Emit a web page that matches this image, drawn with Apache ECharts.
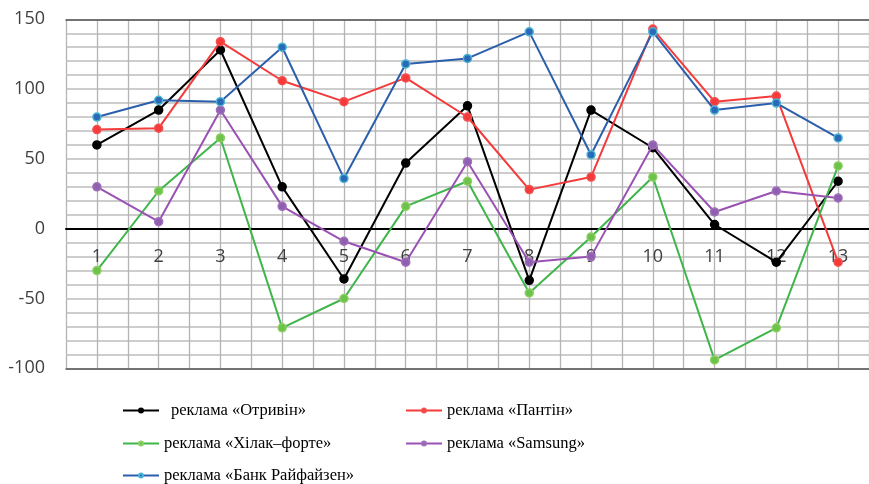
<!DOCTYPE html>
<html>
<head>
<meta charset="utf-8">
<script src="https://cdn.jsdelivr.net/npm/echarts@6/dist/echarts.min.js"></script>
<style>html,body{margin:0;padding:0;background:#fff;}#c{width:869px;height:484px;}</style>
</head>
<body>
<div id="c"></div>
<script>
const categories = ['1','2','3','4','5','6','7','8','9','10','11','12','13'];
const yTickLabels = [-100, -50, 0, 50, 100, 150];
const otrivin = [60, 85, 128, 30, -36, 47, 88, -37, 85, 58, 3, -24, 34];
const pantin = [71, 72, 134, 106, 91, 108, 80, 28, 37, 143, 91, 95, -24];
const khilak = [-30, 27, 65, -71, -50, 16, 34, -46, -6, 37, -94, -71, 45];
const samsung = [30, 5, 85, 16, -9, -24, 48, -24, -20, 60, 12, 27, 22];
const raiffeisen = [80, 92, 91, 130, 36, 118, 122, 141, 53, 141, 85, 90, 65];
const seriesNames = ['реклама «Отривін»','реклама «Пантін»','реклама «Хілак–форте»','реклама «Samsung»','реклама «Банк Райфайзен»'];

const toPts = arr => categories.map((c, i) => [i + 1, arr[i]]);

const styles = [
  {line:'#000000', fill:'#000000', border:'#000000'},
  {line:'#f43a3a', fill:'#f43a3a', border:'#f45050'},
  {line:'#3fb54a', fill:'#6cc24a', border:'#8ccf62'},
  {line:'#9b51b3', fill:'#9060b0', border:'#a070bb'},
  {line:'#2c5fab', fill:'#2a68b8', border:'#4bb3d3'}
];
const dataArr = [otrivin, pantin, khilak, samsung, raiffeisen];

const series = dataArr.map((d, k) => ({
  name: seriesNames[k],
  type: 'line',
  xAxisIndex: 0,
  data: toPts(d),
  symbol: 'circle',
  symbolSize: 8,
  lineStyle: {color: styles[k].line, width: 2},
  itemStyle: {color: styles[k].fill, borderColor: styles[k].border, borderWidth: 1.5},
  emphasis: {disabled: true},
  z: 3 + k
}));

const legendPos = [
  {left: 122, top: 402, pad: 7},
  {left: 405, top: 402, pad: 0},
  {left: 122, top: 435, pad: 0},
  {left: 405, top: 435, pad: 0},
  {left: 122, top: 467, pad: 0}
];
const legends = legendPos.map((p, k) => ({
  data: [seriesNames[k]],
  left: p.left,
  top: p.top,
  padding: 0,
  itemWidth: 36,
  itemHeight: 5,
  selectedMode: false,
  textStyle: {fontFamily: 'Liberation Serif', fontSize: 16.5, color: '#000', padding: [0,0,0,p.pad]}
}));

const chart = echarts.init(document.getElementById('c'));
chart.setOption({
  animation: false,
  backgroundColor: '#fff',
  grid: {left: 66, top: 19.3, width: 810, height: 349},
  legend: legends,
  xAxis: [
    {
      type: 'value', min: 0.5, max: 13.5, interval: 0.5,
      axisLine: {onZero: true, lineStyle: {color: '#000', width: 2}},
      axisTick: {show: false},
      axisLabel: {show: false},
      splitLine: {show: true, lineStyle: {color: '#b4b4b4', width: 1.3}}
    },
    {
      type: 'value', min: 0.5, max: 13.5, position: 'top',
      axisLine: {onZero: false, lineStyle: {color: '#555', width: 1.5}},
      axisTick: {show: false}, axisLabel: {show: false}, splitLine: {show: false}
    },
    {
      type: 'value', min: 0.5, max: 13.5, interval: 0.5, position: 'bottom',
      axisLine: {onZero: false, lineStyle: {color: '#555', width: 1.5}},
      axisTick: {show: false},
      axisLabel: {
        margin: -120,
        fontFamily: 'Open Sans', fontSize: 18, color: '#404040',
        showMinLabel: false, showMaxLabel: false,
        formatter: v => Number.isInteger(v) ? categories[v - 1] : ''
      },
      splitLine: {show: false}
    }
  ],
  yAxis: {
    type: 'value', min: -100, max: 150, interval: 10,
    axisLine: {show: false},
    axisTick: {show: false},
    axisLabel: {
      margin: 21,
      fontFamily: 'Open Sans', fontSize: 18, color: '#404040',
      formatter: v => yTickLabels.includes(v) ? String(v) : ''
    },
    splitLine: {show: true, lineStyle: {color: '#cdcdcd', width: 2}}
  },
  series: series
});
</script>
</body>
</html>
